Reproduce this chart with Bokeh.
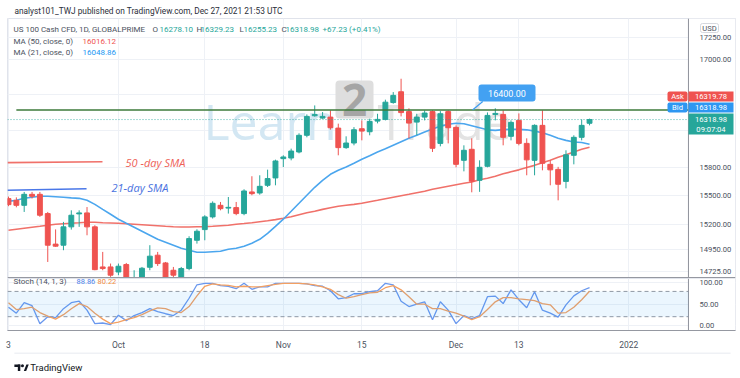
import pandas as pd
from bokeh.plotting import figure
from bokeh.layouts import column
from bokeh.models import (Range1d, FixedTicker, PrintfTickFormatter, BoxAnnotation, Span, Label,
                          ColumnDataSource)
from bokeh.core.properties import value
from bokeh.embed import file_html
from bokeh.resources import INLINE

FONT = "Roboto"

# ---------------- data ----------------
all_days = [d.strftime("%Y-%m-%d") for d in pd.bdate_range("2021-09-13", "2022-01-03")
            if d.strftime("%Y-%m-%d") != "2021-12-24"]
dates = all_days[:75]

opens = [15469, 15451, 15399, 15514, 15514, 15313, 15000, 14989, 15176, 15310,
         15320, 15176, 14770, 14770, 14720, 14794, 14560, 14600, 14767, 14888,
         14810, 14737, 14640, 14754, 15039, 15148, 15279, 15399, 15370, 15375,
         15313, 15539, 15528, 15609, 15687, 15893, 15900, 15965, 16146, 16361,
         16335, 16346, 16225, 16012, 16062, 16218, 16185, 16302, 16321, 16508,
         16629, 16407, 16291, 16346, 16407, 16058, 16407, 16233, 15875, 15994,
         15662, 15811, 16376, 16376, 16135, 16310, 16058, 15875, 16255, 15832,
         15778, 15650, 15929, 16124, 16278.10]
highs = [15490, 15482, 15539, 15539, 15539, 15330, 15150, 15227, 15347, 15347,
         15381, 15193, 14921, 14804, 14804, 14810, 14737, 14770, 14989, 14921,
         14820, 14770, 14770, 15080, 15151, 15296, 15440, 15434, 15486, 15434,
         15567, 15705, 15715, 15775, 15882, 15929, 16001, 16168, 16376, 16476,
         16402, 16421, 16274, 16135, 16236, 16310, 16328, 16383, 16540, 16625,
         16776, 16444, 16383, 16421, 16421, 16413, 16421, 16255, 16037, 16113,
         15875, 16398, 16444, 16421, 16310, 16387, 16113, 16266, 16421, 15875,
         15805, 15983, 16146, 16321, 16329.23]
lows = [15390, 15378, 15330, 15470, 15279, 14820, 14972, 14938, 15148, 15176,
        15090, 14737, 14737, 14671, 14688, 14450, 14420, 14550, 14737, 14780,
        14560, 14668, 14600, 14737, 15005, 15039, 15262, 15347, 15313, 15296,
        15296, 15504, 15510, 15591, 15609, 15803, 15875, 15950, 16124, 16350,
        16328, 16208, 15929, 15999, 16037, 16091, 16146, 16277, 16310, 16495,
        16354, 16113, 16146, 16310, 15965, 16026, 16058, 15800, 15757, 15535,
        15540, 15800, 16310, 16037, 16091, 16037, 15715, 15715, 15768, 15609,
        15451, 15577, 15832, 16091, 16255.23]
closes = [15406, 15399, 15514, 15493, 15296, 14989, 14979, 15176, 15296, 15320,
          15176, 14743, 14754, 14688, 14777, 14600, 14620, 14757, 14878, 14804,
          14640, 14688, 14754, 15056, 15131, 15279, 15420, 15364, 15378, 15313,
          15549, 15521, 15598, 15680, 15868, 15911, 15975, 16146, 16354, 16376,
          16354, 16229, 16012, 16062, 16207, 16192, 16299, 16321, 16512, 16588,
          16396, 16280, 16346, 16391, 16005, 16383, 16229, 15832, 15983, 15652,
          15800, 16365, 16387, 16124, 16288, 16058, 15880, 16255, 15843, 15773,
          15620, 15934, 16124, 16255, 16318.98]

ma50 = [15141, 15152, 15162, 15172, 15182, 15193, 15203, 15208, 15213, 15218,
        15224, 15224, 15218, 15216, 15213, 15208, 15203, 15198, 15193, 15188,
        15182, 15177, 15175, 15175, 15177, 15179, 15182, 15188, 15193, 15203,
        15210, 15218, 15229, 15239, 15251, 15265, 15280, 15301, 15321, 15337,
        15357, 15373, 15389, 15399, 15409, 15420, 15436, 15451, 15467, 15483,
        15499, 15514, 15530, 15546, 15567, 15583, 15599, 15615, 15630, 15644,
        15667, 15683, 15704, 15731, 15752, 15773, 15797, 15821, 15848, 15875,
        15907, 15934, 15965, 15994, 16016.12]
ma21 = [15441, 15451, 15472, 15483, 15493, 15493, 15488, 15483, 15477, 15472,
        15451, 15409, 15357, 15306, 15255, 15213, 15172, 15131, 15090, 15049,
        15019, 14989, 14958, 14938, 14918, 14918, 14923, 14928, 14948, 14958,
        14979, 15009, 15049, 15110, 15182, 15255, 15337, 15420, 15504, 15588,
        15662, 15726, 15768, 15803, 15843, 15886, 15924, 15965, 15999, 16037,
        16075, 16113, 16146, 16182, 16215, 16245, 16268, 16278, 16272, 16250,
        16228, 16206, 16200, 16208, 16211, 16211, 16206, 16192, 16173, 16146,
        16113, 16091, 16073, 16067, 16048.86]

stoch_k = [42.6, 28.4, 53.2, 46.1, 3, 19.9, 17.7, 39, 53.2, 56.7,
           35.5, 3.5, 5, 1.4, 23.4, 10.6, 22.7, 29.8, 39, 31.9,
           27, 22.7, 35.5, 63.8, 95.7, 99.3, 99.3, 93.6, 92.2, 86.5,
           99.3, 85.1, 90.8, 90.8, 99.3, 99.3, 99.3, 99.3, 97.9, 93.6,
           92.2, 81.6, 62.4, 65.2, 74.5, 74.5, 79.4, 81.6, 99.3, 95.7,
           56.7, 44, 49.6, 55.3, 12.8, 55.3, 35.5, 3.5, 22.7, 15.6,
           22.7, 67.4, 68.8, 51.1, 83.7, 60.3, 41.1, 79.4, 35.5, 28.4,
           19.1, 48.2, 69.5, 81.6, 88.86]
stoch_d = [53.2, 36.9, 39, 42.6, 29.8, 21.3, 14.2, 24.8, 39, 51.1,
           44, 28.4, 14.2, 3.5, 7.1, 12.8, 17.7, 24.8, 34, 41.1,
           39, 31.9, 29.8, 44, 69.5, 92.2, 97.9, 95.7, 94.3, 90.8,
           92.2, 90.8, 90.8, 93.6, 96.5, 99.3, 99.3, 99.3, 97.9, 95.7,
           90.8, 85.1, 72.3, 63.8, 67.4, 72.3, 76.6, 78, 88.7, 93.6,
           83.7, 67.4, 49.6, 49.6, 39, 39, 33.3, 28.4, 21.3, 12.8,
           19.9, 36.9, 55.3, 65.2, 65.2, 62.4, 60.3, 58.2, 51.1, 48.2,
           28.4, 29.8, 42.6, 60.3, 80.22]

tick_dates = ["2021-09-13", "2021-10-01", "2021-10-18", "2021-11-01", "2021-11-15",
              "2021-12-01", "2021-12-13", "2022-01-03"]
tick_labels = ["3", "Oct", "18", "Nov", "15", "Dec", "13", "2022"]
price_ticks = [14725, 14950, 15200, 15500, 15800, 16200, 16600, 17000, 17250]
hidden_price_ticks = [16200, 16600]
stoch_ticks = [0, 50, 100]
stoch_levels = [80, 20]

level_price = 16425          # drawn horizontal line
level_start = 1
callout_text = "16400.00"
last_close = 16318.98
ask_price = "16319.78"
bid_price = "16318.98"
countdown = "09:07:04"
sma50_note_x = [-0.13, 11.97]
sma50_note_y = [15850, 15859]
sma21_note_x = [-0.13, 9.94]
sma21_note_y = [15556, 15572]

title_text = "analyst101_TWJ published on TradingView.com, Dec 27, 2021 21:53 UTC"

GREEN = "#26a69a"
RED = "#ef5350"
MA50_C = "#f0716a"
MA21_C = "#4ba6ee"
K_C = "#6a98ee"
D_C = "#f3a062"
GRID = "#eef1f6"
TXT = "#4c525e"
AXIS = "#8f929b"
BORDER = "#e0e3eb"

# geometry (bar index units): frame runs from x=7px to x=735px, price scale starts at 688px
X0, X1, XSCALE = -0.127, 92.59, 86.6
xs = list(range(len(dates)))
tick_pos = [all_days.index(d) for d in tick_dates]
xr = Range1d(X0, X1)


def slab(fig, sx, sy, text, color, size, style="normal", align="left", font=FONT, alpha=1.0,
         level="annotation"):
    fig.add_layout(Label(x=sx, y=sy, x_units="screen", y_units="screen", text=text,
                         text_color=color, text_font_size=f"{size}px", text_font=font,
                         text_font_style=style, text_align=align, text_baseline="middle",
                         text_alpha=alpha, level=level))


def sbox(fig, l, r, b, t, fill=None, line=None, lw=1, radius=0, level="annotation", alpha=1.0):
    fig.add_layout(BoxAnnotation(left=l, right=r, bottom=b, top=t, left_units="screen",
                                 right_units="screen", bottom_units="screen", top_units="screen",
                                 fill_color=fill, fill_alpha=alpha if fill else 0,
                                 line_color=line, line_alpha=1 if line else 0, line_width=lw,
                                 border_radius=radius, level=level))


def bare(fig):
    fig.outline_line_color = None
    fig.background_fill_color = "white"
    fig.border_fill_color = "white"


# ---------------- header ----------------
h = figure(width=740, height=18, x_range=Range1d(0, 740), y_range=Range1d(0, 18),
           x_axis_location=None, y_axis_location=None, output_backend="svg", toolbar_location=None,
           min_border=0)
bare(h)
h.grid.visible = False
h.text(x=[7], y=[7.5], text=[title_text], text_font=value(FONT), text_font_size="8.3px",
       text_color="#2a2e39", text_baseline="middle")

# ---------------- price pane ----------------
p = figure(width=740, height=260, x_range=xr, y_range=Range1d(14655, 17474), y_axis_type="log",
           x_axis_location=None, y_axis_location="right", output_backend="svg", toolbar_location=None,
           min_border_left=7, min_border_right=5, min_border_top=0, min_border_bottom=0)
bare(p)
p.outline_line_color = BORDER
p.xgrid.ticker = FixedTicker(ticks=tick_pos)
p.xgrid.grid_line_color = GRID
p.ygrid.grid_line_color = GRID
p.yaxis.ticker = FixedTicker(ticks=price_ticks)
p.yaxis.formatter = PrintfTickFormatter(format="%.2f")
p.yaxis.major_label_overrides = {t: "" for t in hidden_price_ticks}
p.yaxis.major_tick_line_color = None
p.yaxis.minor_tick_line_color = None
p.yaxis.axis_line_color = None
p.yaxis.major_label_standoff = -42
p.yaxis.major_label_text_font = FONT
p.yaxis.major_label_text_font_size = "7.6px"
p.yaxis.major_label_text_color = TXT
p.add_layout(BoxAnnotation(left=XSCALE, fill_color="white", fill_alpha=1, line_color=None,
                           level="underlay"))
p.add_layout(Span(location=XSCALE, dimension="height", line_color=AXIS, line_width=1))

# watermark (behind the candles)
slab(p, 196, 158, "Learn", "#d3e7f3", 50, font="Open Sans", level="underlay")
sbox(p, 328, 366, 160, 198, fill="#dedede", radius=4, level="underlay")
slab(p, 347, 179, "2", "#a5a5a5", 44, style="bold", align="center", font="Open Sans", level="underlay")
slab(p, 370, 158, "Trade", "#e3e3e3", 50, font="Open Sans", level="underlay")

src = ColumnDataSource(dict(
    x=xs, open=opens, high=highs, low=lows, close=closes,
    top=[max(o, c) for o, c in zip(opens, closes)],
    bottom=[min(o, c) for o, c in zip(opens, closes)],
    color=[GREEN if c >= o else RED for o, c in zip(opens, closes)]))

p.line(xs, ma50, line_color=MA50_C, line_width=1.6)
p.line(xs, ma21, line_color=MA21_C, line_width=1.6)
p.segment(x0="x", y0="low", x1="x", y1="high", line_color="color", line_width=1, source=src)
p.vbar(x="x", width=0.62, top="top", bottom="bottom", fill_color="color", line_color="color",
       line_width=1, source=src)

p.segment(x0=[level_start], y0=[level_price], x1=[XSCALE], y1=[level_price],
          line_color="#3d7a3a", line_width=1.5)
p.segment(x0=[X0], y0=[last_close], x1=[XSCALE], y1=[last_close], line_color=GREEN,
          line_dash="1 2", line_width=1, line_alpha=0.8)

# SMA notes
p.line(sma50_note_x, sma50_note_y, line_color=MA50_C, line_width=1.6)
p.line(sma21_note_x, sma21_note_y, line_color="#4a77e8", line_width=1.6)
slab(p, 118, 116, "50 -day SMA", "#ee6258", 11, style="italic", font="Open Sans")
slab(p, 104, 91, "21-day SMA", "#4a72e0", 11, style="italic", font="Open Sans")

# callout 16400.00
p.segment(x0=[60.4], y0=[16520], x1=[59.1], y1=[level_price], line_color="#3d9cf0", line_width=1.2)
sbox(p, 471, 528, 177, 194, fill="#43a1f2", radius=3)
slab(p, 499.5, 185.5, callout_text, "white", 9, align="center")

# legend texts
slab(p, 6, 249, "US 100 Cash CFD, 1D, GLOBALPRIME", TXT, 8)
for sx, t, c in [(145, "O", TXT), (152, "16278.10", GREEN), (189, "H", TXT), (193, "16329.23", GREEN),
                 (232, "L", TXT), (236, "16255.23", GREEN), (274, "C", TXT), (278, "16318.98", GREEN),
                 (315, "+67.23 (+0.41%)", GREEN)]:
    slab(p, sx, 249, t, c, 8)
slab(p, 6, 237, "MA (50, close, 0)", TXT, 8)
slab(p, 75, 237, "16016.12", RED, 8)
slab(p, 6, 226, "MA (21, close, 0)", TXT, 8)
slab(p, 75, 226, "16048.86", "#2196f3", 8)

# price-scale labels
sbox(p, 660, 680, 177, 187, fill="#ef5350", radius=2)
sbox(p, 681, 726, 177, 187, fill="#ef5350")
slab(p, 670, 182, "Ask", "white", 7.6, align="center")
slab(p, 703.5, 182, ask_price, "white", 7.6, align="center")
sbox(p, 660, 680, 166, 176, fill="#2e97f2", radius=2)
sbox(p, 681, 726, 166, 176, fill="#2e97f2")
slab(p, 670, 171, "Bid", "white", 7.6, align="center")
slab(p, 703.5, 171, bid_price, "white", 7.6, align="center")
sbox(p, 681, 726, 144, 165, fill=GREEN)
slab(p, 703.5, 159.5, f"{last_close:.2f}", "white", 7.6, align="center")
slab(p, 703.5, 149.5, countdown, "white", 7.6, align="center")
sbox(p, 693, 711, 246, 255, fill="white", line="#d6d8de", radius=2)
slab(p, 702, 250.5, "USD", TXT, 7.6, align="center")

# pane separator
sbox(p, 0, 728, 0, 1.5, fill="#9598a1")

# ---------------- stochastic pane ----------------
s = figure(width=740, height=74, x_range=xr, y_range=Range1d(-12.77, 110.64), y_axis_location="right",
           output_backend="svg", toolbar_location=None,
           min_border_left=7, min_border_right=5, min_border_top=0, min_border_bottom=16)
bare(s)
s.outline_line_color = BORDER
s.xgrid.ticker = FixedTicker(ticks=tick_pos)
s.xgrid.grid_line_color = GRID
s.ygrid.ticker = FixedTicker(ticks=stoch_ticks)
s.ygrid.grid_line_color = GRID
s.yaxis.ticker = FixedTicker(ticks=stoch_ticks)
s.yaxis.formatter = PrintfTickFormatter(format="%.2f")
s.xaxis.ticker = FixedTicker(ticks=tick_pos)
s.xaxis.major_label_overrides = dict(zip(tick_pos, tick_labels))
for ax in (s.xaxis, s.yaxis):
    ax.major_tick_line_color = None
    ax.minor_tick_line_color = None
    ax.major_label_text_font = FONT
    ax.major_label_text_color = TXT
s.yaxis.major_label_text_font_size = "7.6px"
s.xaxis.major_label_text_font_size = "8.5px"
s.yaxis.axis_line_color = None
s.xaxis.axis_line_color = "#9598a1"
s.xaxis.axis_line_width = 1.2
s.yaxis.major_label_standoff = -42
s.xaxis.major_label_standoff = 3
s.add_layout(BoxAnnotation(left=XSCALE, fill_color="white", fill_alpha=1, line_color=None,
                           level="underlay"))
s.add_layout(Span(location=XSCALE, dimension="height", line_color=AXIS, line_width=1))

s.add_layout(BoxAnnotation(right=XSCALE, bottom=20, top=80, fill_color="#2196f3", fill_alpha=0.09,
                           line_color=None))
s.segment(x0=[X0] * 2, y0=stoch_levels, x1=[XSCALE] * 2, y1=stoch_levels, line_color="#9598a1",
          line_dash="4 3", line_width=1)
s.line(xs, stoch_k, line_color=K_C, line_width=1.3)
s.line(xs, stoch_d, line_color=D_C, line_width=1.3)

slab(s, 6, 49, "Stoch (14, 1, 3)", TXT, 8)
slab(s, 69, 49, "88.86", "#4d7fe8", 7.5)
slab(s, 90, 49, "80.22", "#f08a3c", 7.5)

# ---------------- footer ----------------
f = figure(width=740, height=26, x_range=Range1d(0, 740), y_range=Range1d(0, 26),
           x_axis_location=None, y_axis_location=None, output_backend="svg", toolbar_location=None,
           min_border=0)
bare(f)
f.grid.visible = False
f.segment(x0=[7], y0=[25.5], x1=[735], y1=[25.5], line_color=BORDER, line_width=1)
f.quad(left=[7, 10.5], right=[13, 13], bottom=[11.5, 7.5], top=[14, 14], fill_color="#131722",
       line_color=None)
f.scatter(x=[15.2], y=[12.8], size=3, fill_color="#131722", line_color=None)
f.patch(x=[16.6, 19.2, 21.6, 19.0], y=[7.5, 14, 14, 7.5], fill_color="#131722", line_color=None)
f.text(x=[23], y=[11.3], text=["TradingView"], text_font=value(FONT), text_font_size="9.5px",
       text_color="#131722", text_baseline="middle")

layout = column(h, p, s, f)
open("out.html", "w").write(file_html(layout, INLINE))
